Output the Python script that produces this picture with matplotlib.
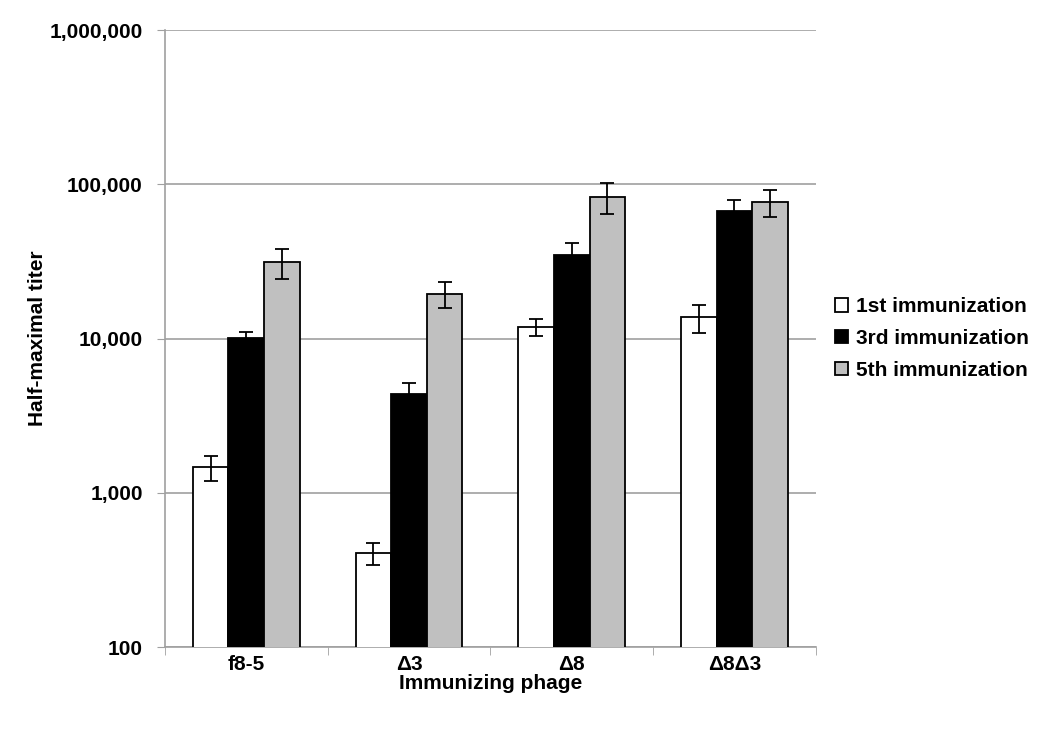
import matplotlib
matplotlib.use('Agg')
import matplotlib.pyplot as plt
import numpy as np
from matplotlib.ticker import FixedLocator, FuncFormatter, NullLocator

plt.rcParams['font.family'] = ['Liberation Sans', 'DejaVu Sans']
plt.rcParams['font.weight'] = 'bold'

# Data
phages = ['f8-5', '\u03943', '\u03948', '\u03948\u03943']
series = ['1st immunization', '3rd immunization', '5th immunization']
first = [1470, 405, 11950, 13700]
third = [10100, 4350, 34900, 67100]
fifth = [31300, 19450, 82800, 76800]
first_err = [270, 65, 1500, 2900]
third_err = [900, 830, 6700, 12000]
fifth_err = [7000, 3700, 18500, 15000]
colors = ['white', 'black', '#c0c0c0']

values = [first, third, fifth]
errors = [first_err, third_err, fifth_err]

fig = plt.figure(figsize=(10.5, 7.32), dpi=100)
ax = fig.add_axes([0.157, 0.116, 0.62, 0.843])

x = np.arange(len(phages))
width = 0.219
for i in range(3):
    pos = x + (i - 1) * width
    ax.bar(pos, values[i], width, bottom=0, color=colors[i], edgecolor='black',
           linewidth=1.3, label=series[i], zorder=3)
    ax.errorbar(pos, values[i], yerr=errors[i], fmt='none', ecolor='black',
                elinewidth=1.3, capsize=5, capthick=1.3, zorder=4)

ax.set_yscale('log')
ax.set_ylim(100, 1000000)
ax.set_xlim(-0.5, len(phages) - 0.5)
ax.yaxis.set_major_locator(FixedLocator([100, 1000, 10000, 100000, 1000000]))
ax.yaxis.set_minor_locator(NullLocator())
ax.yaxis.set_major_formatter(FuncFormatter(lambda v, p: f'{int(round(v)):,}'))
ax.yaxis.grid(True, color='#a0a0a0', linewidth=1.2, zorder=0)

ax.set_xticks(x)
ax.set_xticklabels(phages)
ax.set_xticks(np.arange(len(phages) + 1) - 0.5, minor=True)
ax.tick_params(axis='x', which='major', length=0, pad=6, labelsize=15)
ax.tick_params(axis='x', which='minor', length=6, color='#a0a0a0', direction='out')
ax.tick_params(axis='y', which='major', length=6, color='#a0a0a0', pad=10, labelsize=15)

for s in ['top', 'right']:
    ax.spines[s].set_visible(False)
for s in ['left', 'bottom']:
    ax.spines[s].set_color('#a0a0a0')
    ax.spines[s].set_linewidth(1.2)

ax.set_xlabel('Immunizing phage', fontsize=15, fontweight='bold', labelpad=0)
ax.set_ylabel('Half-maximal titer', fontsize=15, fontweight='bold', labelpad=2)

ax.legend(loc='center left', bbox_to_anchor=(1.0, 0.5), frameon=False, fontsize=15,
          handlelength=0.62, handleheight=0.62, handletextpad=0.4, labelspacing=0.62)

fig.savefig('out.png', dpi=100)
